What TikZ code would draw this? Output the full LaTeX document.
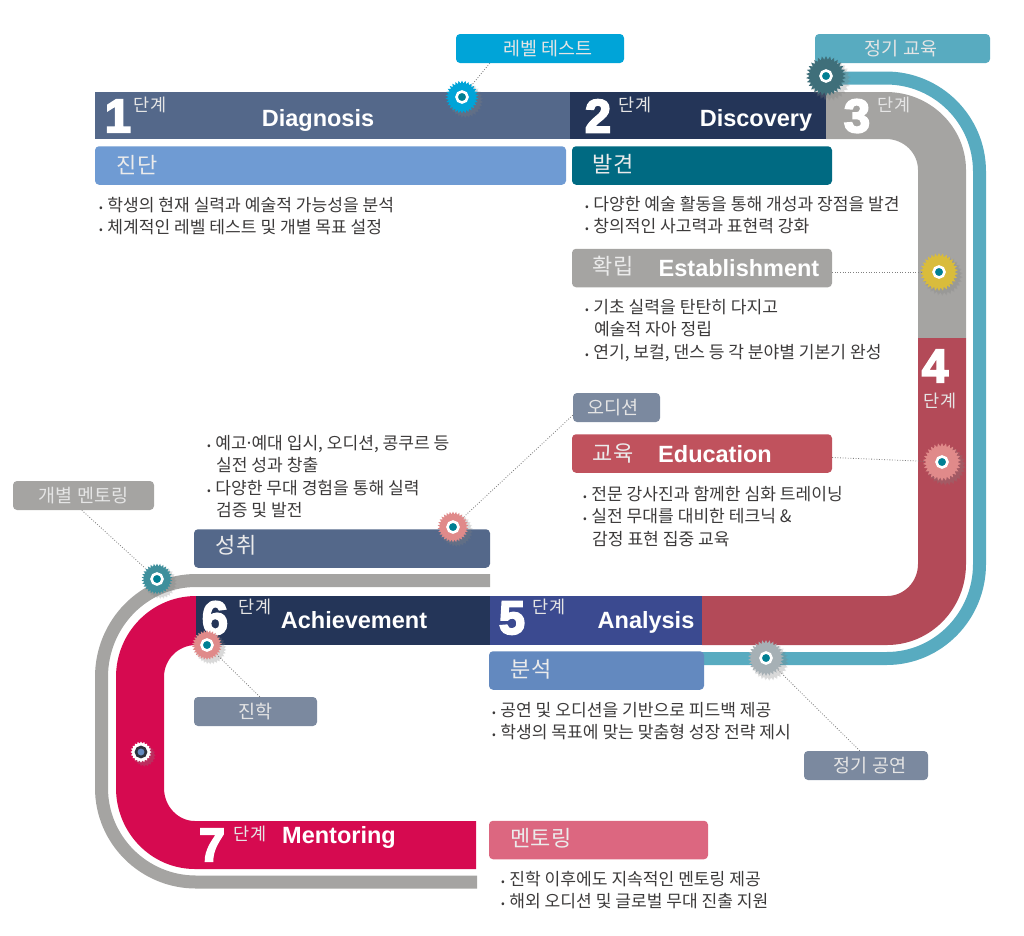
\documentclass[tikz,border=0pt]{standalone}
\usepackage{fontspec}
\setmainfont{Noto Sans CJK KR}
\newfontfamily\latinfont{Liberation Sans}
\newfontfamily\numfont[UprightFont=* Bold, FakeBold=4]{Liberation Sans}
\usetikzlibrary{shapes.geometric, positioning, backgrounds, shadows, calc}
\definecolor{slate}{HTML}{54688A}
\definecolor{navy}{HTML}{243558}
\definecolor{indigo}{HTML}{3B4A90}
\definecolor{stone}{HTML}{A5A4A2}
\definecolor{wine}{HTML}{B34A58}
\definecolor{crimson}{HTML}{D60A50}
\definecolor{lagoon}{HTML}{58ABC0}
\definecolor{steel}{HTML}{7B899F}
\definecolor{sky}{HTML}{00A4D8}
\definecolor{petrol}{HTML}{006A82}
\definecolor{core}{HTML}{007F93}
\definecolor{txt}{HTML}{3C3A3A}
\definecolor{cornflower}{HTML}{6F9BD3}
\definecolor{brick}{HTML}{C0525D}
\definecolor{denim}{HTML}{6389BF}
\definecolor{rosewood}{HTML}{DC6780}
\definecolor{pine}{HTML}{3F6F7A}
\definecolor{mustard}{HTML}{D9BC3C}
\definecolor{salmon}{HTML}{E08A8A}
\definecolor{seagreen}{HTML}{3F8F9C}
\definecolor{ash}{HTML}{A6B0B5}
\definecolor{ink}{HTML}{2D323C}
\newcommand{\bul}{{\fontsize{11}{11}\selectfont •}\hspace{4.5pt}}
\begin{document}
\begin{tikzpicture}[x=1pt,y=-1pt]

	\tikzstyle{box}=[rounded corners=4pt, minimum height=38.5pt, inner sep=0pt]
	\tikzstyle{boxname}=[text=white!92!black, inner sep=0pt, font=\fontsize{22}{22}\selectfont]
	\tikzstyle{tag}=[rounded corners=4pt, minimum height=29pt, inner sep=0pt, text=white!90!black, font=\fontsize{18.5}{18.5}\selectfont]
	\tikzstyle{num}=[text=white, inner sep=0pt, font=\fontsize{47}{47}\numfont]
	\tikzstyle{unit}=[text=white!90!black, inner sep=0pt, font=\fontsize{17.5}{17.5}\selectfont]
	\tikzstyle{title}=[text=white, inner sep=0pt, font=\fontsize{23.5}{23.5}\latinfont\bfseries]
	\tikzstyle{list}=[anchor=north west, align=left, inner sep=0pt, text=txt, font=\fontsize{17.1}{22.5}\selectfont]
	\tikzstyle{gear}=[star, star points=30, star point ratio=1.22, inner sep=0pt, circular drop shadow={shadow xshift=3pt, shadow yshift=-3pt, shadow scale=1.1, opacity=.3}]
	\tikzstyle{hub}=[circle, draw=white, line width=2.6pt, minimum size=11pt, inner sep=0pt]
	\tikzstyle{leader}=[dash pattern=on .9pt off 1.7pt, gray, line width=.8pt]

	% rubans
	\begin{scope}[on background layer]
	\draw[lagoon, line width=13pt] (826,78) -- (886,78) arc[start angle=90, end angle=0, x radius=93.5, y radius=-93.5] -- (979.5,564) arc[start angle=0, end angle=-90, x radius=93, y radius=-94.5] -- (702,658.5);
	\draw[stone, line width=13pt] (490,580.5) -- (196,580.5) arc[start angle=90, end angle=180, x radius=94.5, y radius=-96.5] -- (101.5,788) arc[start angle=180, end angle=270, x radius=94.5, y radius=-94] -- (477,882);
	\fill[stone] (826,92) -- (886,92) arc[start angle=90, end angle=0, x radius=80, y radius=-78] -- (966,338) -- (918,338) -- (918,170) arc[start angle=0, end angle=90, x radius=32, y radius=-31] -- (826,139) -- cycle;
	\fill[wine] (918,338) -- (966,338) -- (966,564) arc[start angle=0, end angle=-90, x radius=79, y radius=-81] -- (702,645) -- (702,596) -- (887,596) arc[start angle=-90, end angle=0, x radius=31, y radius=-32] -- cycle;
	\fill[crimson] (196,596) arc[start angle=90, end angle=180, x radius=80, y radius=-81] -- (116,788) arc[start angle=180, end angle=270, x radius=79, y radius=-81] -- (476,869) -- (476,821) -- (195,821) arc[start angle=270, end angle=180, x radius=31, y radius=-33] -- (164,677) arc[start angle=180, end angle=90, x radius=32, y radius=-32] -- cycle;
	\fill[slate] (95,92) rectangle (570,139);
	\fill[navy] (570,92) rectangle (826,139);
	\fill[navy] (196,596) rectangle (490,645);
	\fill[indigo] (490,596) rectangle (702,645);
	\end{scope}

	% etapes
	\node[num] (n1) at (118,116) {1};
	\node[unit] (u1) at (150,105) {단계};
	\node[title] (t1) at (318,120) {Diagnosis};
	\node[num] (n2) at (598,116) {2};
	\node[unit] (u2) at (635,105) {단계};
	\node[title] (t2) at (756,120) {Discovery};
	\node[num] (n3) at (857,116) {3};
	\node[unit] (u3) at (894,105) {단계};
	\node[num] (n4) at (935,366) {4};
	\node[unit] (u4) at (940,401) {단계};
	\node[num] (n5) at (512,618) {5};
	\node[unit] (u5) at (549,607) {단계};
	\node[title] (t5) at (646,622) {Analysis};
	\node[num] (n6) at (215,618) {6};
	\node[unit] (u6) at (255,607) {단계};
	\node[title] (t6) at (354,620) {Achievement};
	\node[num] (n7) at (212,845) {7};
	\node[unit] (u7) at (250,834) {단계};
	\node[title] (t7) at (339,837) {Mentoring};

	% cartouches
	\node[box, fill=cornflower, minimum width=471pt] (b1) at (330.5,165.5) {};
	\node[boxname] (l1) at (137,165) {진단};
	\node[box, fill=petrol, minimum width=260pt] (b2) at (702,165.5) {};
	\node[boxname] (l2) at (613,164) {발견};
	\node[box, fill=stone, minimum width=260pt] (b3) at (702,268) {};
	\node[boxname] (l3) at (613,266) {확립};
	\node[title] (t3) at (739,268) {Establishment};
	\node[box, fill=brick, minimum width=260pt] (b4) at (702,453.5) {};
	\node[boxname] (l4) at (613,453) {교육};
	\node[title] (t4) at (715,454) {Education};
	\node[box, fill=denim, minimum width=215pt] (b5) at (596.5,670.5) {};
	\node[boxname] (l5) at (531,669) {분석};
	\node[box, fill=slate, minimum width=296pt] (b6) at (342,548.5) {};
	\node[boxname] (l6) at (236,545) {성취};
	\node[box, fill=rosewood, minimum width=219pt] (b7) at (598.5,840) {};
	\node[boxname] (l7) at (541,838) {멘토링};

	% etiquettes
	\node[tag, fill=sky, minimum width=168pt] (tLevel) at (540,48.5) {\hspace{16pt}레벨 테스트};
	\node[tag, fill=lagoon, minimum width=175pt] (tClass) at (902.5,48.5) {\hspace{-3pt}정기 교육};
	\node[tag, fill=stone, minimum width=141pt] (tCoach) at (83.5,495.5) {개별 멘토링};
	\node[tag, fill=steel, minimum width=87pt] (tAudition) at (616.5,407.5) {\hspace{-7pt}오디션};
	\node[tag, fill=steel, minimum width=123pt] (tEntry) at (255.5,711.5) {진학};
	\node[tag, fill=steel, minimum width=124pt] (tStage) at (866,765.5) {\hspace{8pt}정기 공연};

	% textes
	\node[list] (p1) at (99,197) {\bul 학생의 현재 실력과 예술적 가능성을 분석\\ \bul 체계적인 레벨 테스트 및 개별 목표 설정};
	\node[list] (p2) at (585,196) {\bul 다양한 예술 활동을 통해 개성과 장점을 발견\\ \bul 창의적인 사고력과 표현력 강화};
	\node[list] (p3) at (585,299) {\bul 기초 실력을 탄탄히 다지고\\ \hspace{9pt}예술적 자아 정립\\ \bul 연기, 보컬, 댄스 등 각 분야별 기본기 완성};
	\node[list] (p4) at (583,486) {\bul 전문 강사진과 함께한 심화 트레이닝\\ \bul 실전 무대를 대비한 테크닉 \&\\ \hspace{9pt}감정 표현 집중 교육};
	\node[list] (p6) at (207,435) {\bul 예고\hspace{-2.5pt}·\hspace{-2.5pt}예대 입시, 오디션, 콩쿠르 등\\ \hspace{9pt}실전 성과 창출\\ \bul 다양한 무대 경험을 통해 실력\\ \hspace{9pt}검증 및 발전};
	\node[list] (p5) at (492,702) {\bul 공연 및 오디션을 기반으로 피드백 제공\\ \bul 학생의 목표에 맞는 맞춤형 성장 전략 제시};
	\node[list] (p7) at (501,871) {\bul 진학 이후에도 지속적인 멘토링 제공\\ \bul 해외 오디션 및 글로벌 무대 진출 지원};

	% engrenages
	\foreach \nom/\x/\y/\d/\c in {gLevel/462/97/33/sky, gClass/826/76/40/pine, gSkill/939/272/38/mustard, gEdu/942/462/38/salmon, gAudition/453/527/31/salmon, gCoach/157/579/31/seagreen, gEntry/207/645/30/salmon, gStage/766/658/36/ash}{
		\node[gear, fill=\c, minimum size=\d pt] (\nom) at (\x,\y) {};
		\node[hub, fill=core] (\nom c) at (\x,\y) {};
	}
	\node[gear, star points=20, fill=white, minimum size=21pt] (gMentor) at (141,752) {};
	\node[circle, draw=ink, line width=2.6pt, fill=denim, minimum size=10pt, inner sep=0pt] (gMentorc) at (141,752) {};

	% liaisons
	\begin{scope}[on background layer]
	\draw[leader] (tLevel.south west) ++(34,0) coordinate (a1) -- (gLevel);
	\draw[leader] (b3.east |- gSkill) -- (gSkill);
	\draw[leader] (b4.east) ++(0,4) coordinate (a2) -- (gEdu);
	\draw[leader] (tAudition.south west) ++(0,-7) coordinate (a3) -- (gAudition);
	\draw[leader] (tCoach.south west) ++(69,0) coordinate (a4) -- (gCoach);
	\draw[leader] (tEntry.north west) ++(66,0) coordinate (a5) -- (gEntry);
	\draw[leader] (tStage.north west) ++(56,0) coordinate (a6) -- (gStage);
	\end{scope}

	\useasboundingbox (0,0) rectangle (1024,935);
\end{tikzpicture}
\end{document}
